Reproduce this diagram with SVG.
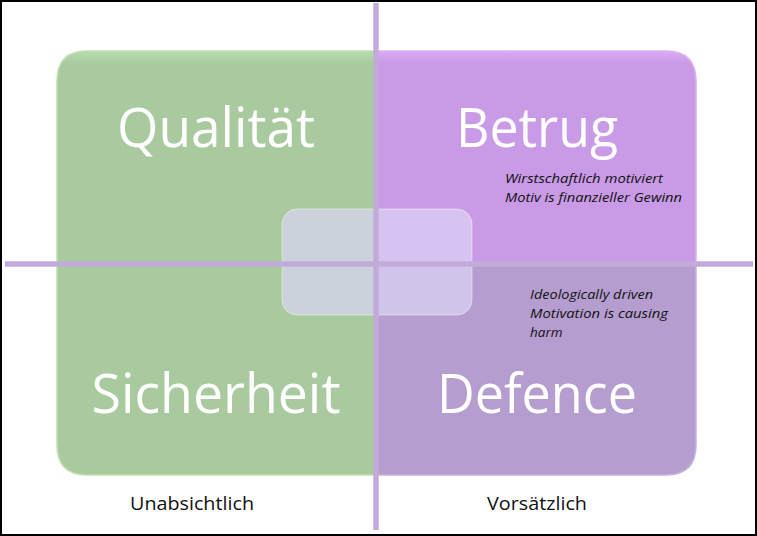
<svg xmlns="http://www.w3.org/2000/svg" width="757" height="536" viewBox="0 0 757 536">
<style>
.big{font-family:"Open Sans","Noto Sans",sans-serif;font-size:54px;fill:#ffffff;text-anchor:middle}
.note{font-family:"Open Sans","Noto Sans",sans-serif;font-size:13.5px;font-style:italic;fill:#111111}
.axis{font-family:"Open Sans","Noto Sans",sans-serif;font-size:19px;fill:#111111;text-anchor:middle}
.q{stroke-width:1.5}
.line{stroke:#c3abd9;stroke-width:5.5;fill:none}
</style>
<defs>
<linearGradient id="gTop" x1="0" y1="0" x2="0" y2="1">
<stop offset="0" stop-color="#b8dcae"/><stop offset="0.06" stop-color="#a9ca9f"/><stop offset="1" stop-color="#a9ca9f"/>
</linearGradient>
<linearGradient id="pTop" x1="0" y1="0" x2="0" y2="1">
<stop offset="0" stop-color="#dcaaf6"/><stop offset="0.06" stop-color="#c99ae6"/><stop offset="1" stop-color="#c99ae6"/>
</linearGradient>
</defs>
<rect x="1" y="1" width="755" height="534" fill="#ffffff" stroke="#000000" stroke-width="2"/>
<g id="qualitaet">
<path class="q" d="M57,81 Q57,51 87,51 L375,51 L375,264 L57,264 Z" fill="url(#gTop)" stroke="#bfe0b5"/>
<text class="big" x="216" y="147" textLength="198" lengthAdjust="spacingAndGlyphs">Qualität</text>
</g>
<g id="betrug">
<path class="q" d="M375,51 L666,51 Q696,51 696,81 L696,264 L375,264 Z" fill="url(#pTop)" stroke="#d8b4ee"/>
<text class="big" x="537" y="147" textLength="162" lengthAdjust="spacingAndGlyphs">Betrug</text>
<text class="note" x="505" y="183" textLength="158" lengthAdjust="spacingAndGlyphs">Wirstschaftlich motiviert</text>
<text class="note" x="505" y="202" textLength="177" lengthAdjust="spacingAndGlyphs">Motiv is finanzieller Gewinn</text>
</g>
<g id="sicherheit">
<path class="q" d="M57,264 L375,264 L375,475 L87,475 Q57,475 57,445 Z" fill="#a9ca9f" stroke="#bfe0b5"/>
<text class="big" x="216" y="413" textLength="249" lengthAdjust="spacingAndGlyphs">Sicherheit</text>
</g>
<g id="defence">
<path class="q" d="M375,264 L696,264 L696,445 Q696,475 666,475 L375,475 Z" fill="#b59dcf" stroke="#c9b3e0"/>
<text class="big" x="537" y="413" textLength="200" lengthAdjust="spacingAndGlyphs">Defence</text>
<text class="note" x="530" y="299" textLength="123" lengthAdjust="spacingAndGlyphs">Ideologically driven</text>
<text class="note" x="530" y="318" textLength="138" lengthAdjust="spacingAndGlyphs">Motivation is causing</text>
<text class="note" x="530" y="337">harm</text>
</g>
<g id="center">
<rect x="282" y="209" width="190" height="106" rx="15" ry="15" fill="#dcd5f7" fill-opacity="0.69" stroke="#ffffff" stroke-opacity="0.45" stroke-width="1"/>
</g>
<g id="connectors">
<line class="line" x1="376" y1="3" x2="376" y2="530"/>
<line class="line" x1="5" y1="264" x2="753" y2="264"/>
</g>
<g id="labels">
<text class="axis" x="192" y="510" textLength="124" lengthAdjust="spacingAndGlyphs">Unabsichtlich</text>
<text class="axis" x="537" y="510" textLength="100" lengthAdjust="spacingAndGlyphs">Vorsätzlich</text>
</g>
</svg>
